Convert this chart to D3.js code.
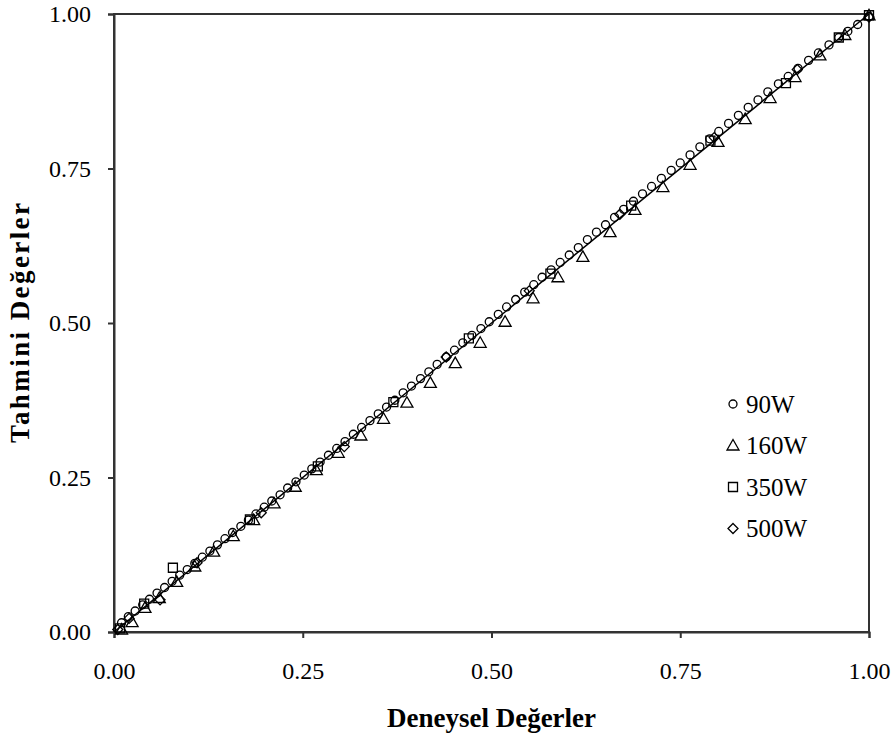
<!DOCTYPE html>
<html>
<head>
<meta charset="utf-8">
<script src="https://cdn.jsdelivr.net/npm/d3@7"></script>
<style>
  body { margin: 0; background: #fff; }
  text { font-family: "Liberation Serif", "Times New Roman", serif; fill: #000; }
</style>
</head>
<body>
<div id="chart"></div>
<script>
// 90W
const exp90 = [1.000, 0.985, 0.972, 0.960, 0.947, 0.933, 0.920, 0.906, 0.893, 0.880, 0.866, 0.853, 0.840, 0.827, 0.814, 0.801, 0.789, 0.776, 0.763, 0.750, 0.738, 0.725, 0.712, 0.700, 0.688, 0.675, 0.663, 0.651, 0.639, 0.627, 0.615, 0.603, 0.591, 0.579, 0.567, 0.556, 0.544, 0.532, 0.520, 0.509, 0.497, 0.486, 0.474, 0.462, 0.451, 0.440, 0.428, 0.417, 0.406, 0.394, 0.383, 0.372, 0.361, 0.350, 0.339, 0.328, 0.317, 0.306, 0.295, 0.284, 0.273, 0.262, 0.252, 0.241, 0.230, 0.220, 0.209, 0.199, 0.188, 0.178, 0.168, 0.157, 0.147, 0.137, 0.127, 0.117, 0.107, 0.097, 0.087, 0.077, 0.067, 0.057, 0.047, 0.038, 0.028, 0.019, 0.010];
const pred90 = [0.996, 0.983, 0.972, 0.962, 0.950, 0.937, 0.925, 0.912, 0.899, 0.887, 0.874, 0.861, 0.849, 0.836, 0.823, 0.810, 0.798, 0.785, 0.772, 0.759, 0.747, 0.734, 0.721, 0.709, 0.697, 0.684, 0.671, 0.659, 0.647, 0.635, 0.622, 0.610, 0.598, 0.586, 0.574, 0.562, 0.550, 0.538, 0.526, 0.514, 0.502, 0.491, 0.480, 0.468, 0.456, 0.445, 0.433, 0.421, 0.410, 0.398, 0.387, 0.375, 0.364, 0.353, 0.342, 0.331, 0.320, 0.308, 0.297, 0.286, 0.275, 0.264, 0.254, 0.243, 0.233, 0.222, 0.212, 0.202, 0.191, 0.181, 0.171, 0.161, 0.151, 0.141, 0.131, 0.121, 0.111, 0.101, 0.092, 0.082, 0.072, 0.063, 0.053, 0.044, 0.034, 0.025, 0.015];
// 160W
const exp160 = [1.000, 0.968, 0.935, 0.902, 0.869, 0.836, 0.800, 0.763, 0.727, 0.690, 0.657, 0.621, 0.588, 0.555, 0.518, 0.485, 0.452, 0.419, 0.388, 0.357, 0.327, 0.297, 0.268, 0.240, 0.212, 0.185, 0.158, 0.132, 0.107, 0.083, 0.060, 0.041, 0.024, 0.010];
const pred160 = [0.998, 0.966, 0.933, 0.898, 0.864, 0.830, 0.793, 0.756, 0.720, 0.683, 0.647, 0.607, 0.574, 0.540, 0.502, 0.468, 0.435, 0.403, 0.371, 0.345, 0.318, 0.290, 0.262, 0.235, 0.208, 0.181, 0.155, 0.130, 0.106, 0.081, 0.055, 0.039, 0.016, 0.004];
// 350W
const exp350 = [1.000, 0.960, 0.890, 0.790, 0.685, 0.578, 0.470, 0.370, 0.270, 0.180, 0.078, 0.040, 0.008];
const pred350 = [0.998, 0.962, 0.888, 0.795, 0.690, 0.580, 0.475, 0.372, 0.268, 0.182, 0.104, 0.046, 0.006];
// 500W
const exp500 = [1.000, 0.905, 0.795, 0.670, 0.550, 0.440, 0.305, 0.195, 0.110, 0.061, 0.020, 0.005];
const pred500 = [0.995, 0.910, 0.800, 0.676, 0.552, 0.445, 0.300, 0.193, 0.112, 0.052, 0.022, 0.004];
// y = x line
const fitX = [0, 1];
const fitY = [0, 1];

const seriesNames = ["90W", "160W", "350W", "500W"];
const tickValues = [0, 0.25, 0.5, 0.75, 1];

const width = 895, height = 740;
const margin = { top: 14, right: 26, bottom: 108, left: 114 };

const svg = d3.select("#chart").append("svg")
    .attr("width", width)
    .attr("height", height);

const x = d3.scaleLinear().domain([0, 1]).range([margin.left, width - margin.right]);
const y = d3.scaleLinear().domain([0, 1]).range([height - margin.bottom, margin.top]);

// marker shapes
const shapes = {
    circle: (cx, cy) => `M${cx + 4},${cy}A4,4 0 1,1 ${cx - 4},${cy}A4,4 0 1,1 ${cx + 4},${cy}Z`,
    triangle: (cx, cy) => `M${cx},${cy - 6}L${cx + 6},${cy + 4.5}L${cx - 6},${cy + 4.5}Z`,
    square: (cx, cy) => `M${cx - 4.5},${cy - 4.5}h9v9h-9Z`,
    diamond: (cx, cy) => `M${cx},${cy - 5}L${cx + 5},${cy}L${cx},${cy + 5}L${cx - 5},${cy}Z`
};

const series = [
    { name: seriesNames[0], xs: exp90, ys: pred90, shape: "circle" },
    { name: seriesNames[1], xs: exp160, ys: pred160, shape: "triangle" },
    { name: seriesNames[2], xs: exp350, ys: pred350, shape: "square" },
    { name: seriesNames[3], xs: exp500, ys: pred500, shape: "diamond" }
];

// frame
svg.append("rect")
    .attr("x", x(0)).attr("y", y(1))
    .attr("width", x(1) - x(0)).attr("height", y(0) - y(1))
    .attr("fill", "none").attr("stroke", "#333").attr("stroke-width", 2);

// axes
const xAxis = svg.append("g")
    .attr("transform", `translate(0,${y(0)})`)
    .call(d3.axisBottom(x).tickValues(tickValues).tickFormat(d3.format(".2f")).tickSize(6).tickPadding(24));
const yAxis = svg.append("g")
    .attr("transform", `translate(${x(0)},0)`)
    .call(d3.axisLeft(y).tickValues(tickValues).tickFormat(d3.format(".2f")).tickSize(6).tickPadding(17));
[xAxis, yAxis].forEach(g => {
    g.select(".domain").attr("stroke", "#333").attr("stroke-width", 2);
    g.selectAll(".tick line").attr("stroke", "#333").attr("stroke-width", 2);
    g.selectAll(".tick text").style("font-family", "'Liberation Serif', serif").style("font-size", "24px");
});

// markers
series.forEach(s => {
    svg.append("g")
        .selectAll("path")
        .data(s.xs.map((v, i) => [v, s.ys[i]]))
        .join("path")
        .attr("d", d => shapes[s.shape](x(d[0]), y(d[1])))
        .attr("fill", "none")
        .attr("stroke", "#000")
        .attr("stroke-width", 1.3);
});

// fitted line
svg.append("path")
    .datum(fitX.map((v, i) => [v, fitY[i]]))
    .attr("d", d3.line().x(d => x(d[0])).y(d => y(d[1])))
    .attr("fill", "none")
    .attr("stroke", "#000")
    .attr("stroke-width", 1.5);

// legend
const legend = svg.append("g").attr("transform", "translate(733,404)");
series.forEach((s, i) => {
    const row = legend.append("g").attr("transform", `translate(0,${i * 41.5})`);
    row.append("path").attr("d", shapes[s.shape](0, 0))
        .attr("fill", "none").attr("stroke", "#000").attr("stroke-width", 1.3);
    row.append("text").attr("x", 13).attr("y", 8.5).style("font-size", "25px").text(s.name);
});

// axis titles
svg.append("text")
    .attr("x", x(0.5)).attr("y", 727)
    .attr("text-anchor", "middle")
    .style("font-size", "27px").style("font-weight", "bold")
    .text("Deneysel Değerler");
svg.append("text")
    .attr("transform", `translate(29,${y(0.5)}) rotate(-90)`)
    .attr("text-anchor", "middle")
    .attr("textLength", 240)
    .attr("lengthAdjust", "spacing")
    .style("font-size", "27px").style("font-weight", "bold")
    .text("Tahmini Değerler");
</script>
</body>
</html>
